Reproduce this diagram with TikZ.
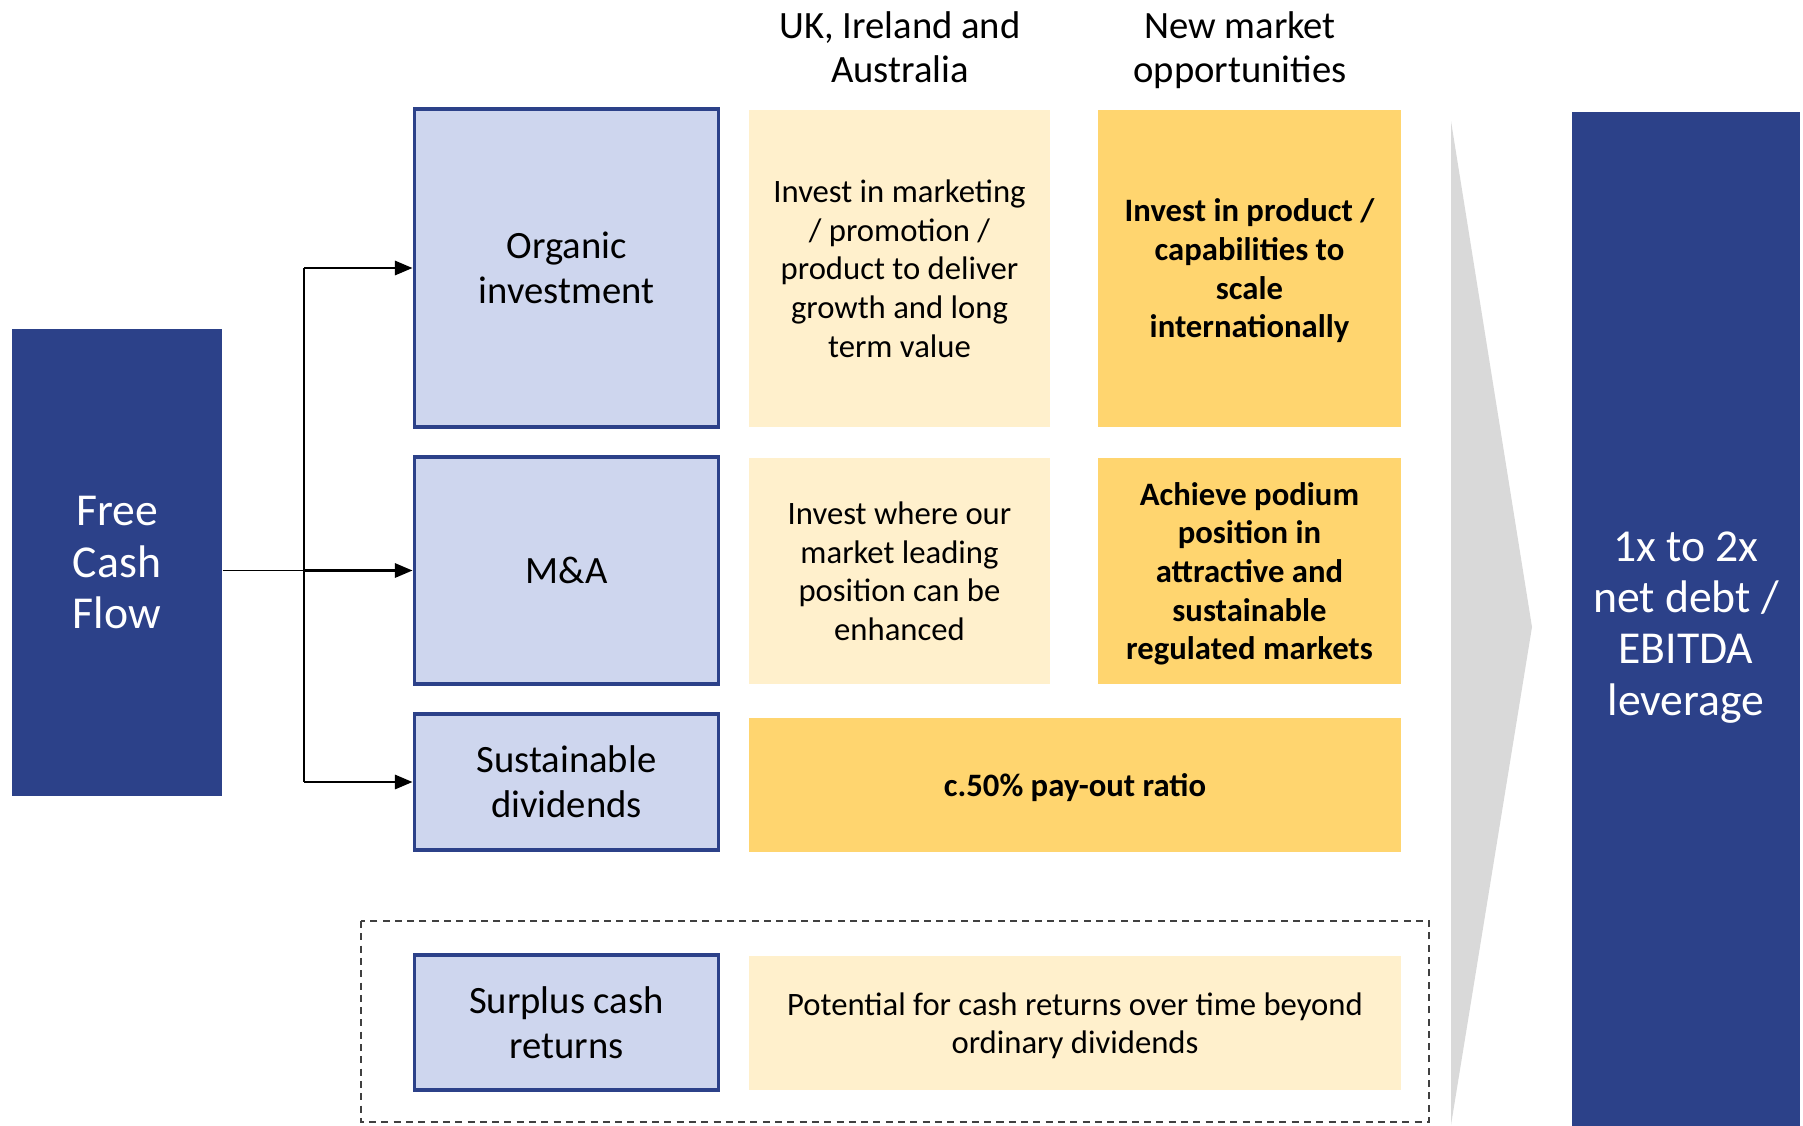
\documentclass[tikz,border=0pt]{standalone}
\usepackage{fontspec}
\setmainfont{Carlito}
\usetikzlibrary{arrows.meta}
\definecolor{navy}{HTML}{2C4189}
\definecolor{lavender}{HTML}{CED6EE}
\definecolor{paleyellow}{HTML}{FFF0CC}
\definecolor{gold}{HTML}{FFD56F}
\definecolor{chevgrey}{HTML}{D9D9D9}
\tikzstyle{use box}=[draw=navy,line width=1.1pt,fill=lavender,align=center,inner sep=0pt,text depth=0pt,minimum width=3.04cm,font=\fontsize{11}{12.8}\selectfont]
\tikzstyle{plain cell}=[fill=paleyellow,align=center,inner sep=0pt,text depth=0pt,font=\fontsize{9.3}{11}\selectfont]
\tikzstyle{key cell}=[plain cell,fill=gold,font=\fontsize{9.3}{11}\selectfont\bfseries]
\tikzstyle{navy box}=[fill=navy,text=white,align=center,inner sep=0pt,text depth=0pt,font=\fontsize{13}{14.6}\selectfont]
\tikzstyle{head}=[align=center,text depth=0pt,font=\fontsize{11}{12.5}\selectfont]
\tikzstyle{edge}=[draw,line width=0.75pt,-{Triangle[length=5pt,width=4pt]}]

\begin{document}
\begin{tikzpicture}
    \useasboundingbox (0,0) rectangle (18.03,-11.25);

    % Grey chevron behind the target box
    \fill[chevgrey] (14.51,-1.21) -- (15.32,-6.27) -- (14.51,-11.25) -- cycle;

    % Source and target
    \node[navy box,minimum width=2.1cm,minimum height=4.67cm] (fcf) at (1.17,-5.625) {Free\\Cash\\Flow};
    \node[navy box,minimum width=2.28cm,minimum height=10.23cm] (lever) at (16.86,-6.235) {1x to 2x\\net debt /\\EBITDA\\leverage};

    % Column headings
    \node[head] (ukhead) at (9.0,-0.47) {UK, Ireland and\\Australia};
    \node[head] (newhead) at (12.4,-0.47) {New market\\opportunities};

    % Uses of cash on the left
    \foreach \name/\ypos/\h/\txt in {organic/-2.68/3.18/{Organic\\investment}, ma/-5.705/2.27/{M\&A}, divs/-7.82/1.36/{Sustainable\\dividends}, surplus/-10.225/1.35/{Surplus cash\\returns}}
        \node[use box,minimum height=\h cm] (\name) at (5.665,\ypos) {\txt};

    % Core markets column
    \node[plain cell,minimum width=3.01cm,minimum height=3.17cm] (orgcore) at (8.995,-2.685) {Invest in marketing\\/ promotion /\\product to deliver\\growth and long\\term value};
    \node[plain cell,minimum width=3.01cm,minimum height=2.26cm] (macore) at (8.995,-5.71) {Invest where our\\market leading\\position can be\\enhanced};

    % New markets column
    \node[key cell,minimum width=3.03cm,minimum height=3.17cm] (orgnew) at (12.495,-2.685) {Invest in product /\\capabilities to\\scale\\internationally};
    \node[key cell,minimum width=3.03cm,minimum height=2.26cm] (manew) at (12.495,-5.71) {Achieve podium\\position in\\attractive and\\sustainable\\regulated markets};

    % Rows spanning both columns
    \node[key cell,minimum width=6.52cm,minimum height=1.34cm] (payout) at (10.75,-7.85) {c.50\% pay-out ratio};
    \node[plain cell,minimum width=6.52cm,minimum height=1.34cm] (extra) at (10.75,-10.23) {Potential for cash returns over time beyond\\ordinary dividends};

    % Dashed frame round the surplus row
    \draw[black!75,line width=0.5pt,dash pattern=on 2pt off 1.5pt] (3.61,-9.21) rectangle (14.29,-11.22);

    % Split free cash flow into the three uses
    \coordinate (split) at (3.04,-5.705);
    \draw[line width=0.4pt] (fcf.east |- split) -- (split);
    \draw[line width=0.6pt] (split |- organic.west) -- (split |- divs.west);
    \foreach \dest in {organic, ma, divs}
        \path[edge] (split |- \dest.west) -- (\dest.west);

\end{tikzpicture}
\end{document}
